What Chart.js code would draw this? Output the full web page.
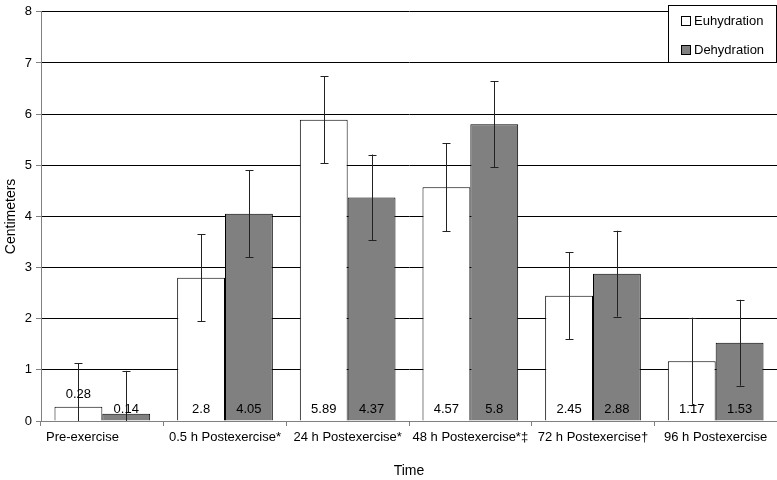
<!DOCTYPE html>
<html>
<head>
<meta charset="utf-8">
<script src="https://cdn.jsdelivr.net/npm/chart.js@4/dist/chart.umd.min.js"></script>
<style>
  html, body { margin: 0; padding: 0; background: #fff; }
  #wrap { width: 777px; height: 480px; }
</style>
</head>
<body>
<div id="wrap"><canvas id="chart"></canvas></div>
<script>
// Data
const categories = ['Pre-exercise', '0.5 h Postexercise*', '24 h Postexercise*', '48 h Postexercise*\u2021', '72 h Postexercise\u2020', '96 h Postexercise']
const euhydration = [0.28, 2.8, 5.89, 4.57, 2.45, 1.17]
const dehydration = [0.14, 4.05, 4.37, 5.8, 2.88, 1.53]
const euhydrationErr = [0.85, 0.85, 0.85, 0.86, 0.85, 0.85]
const dehydrationErr = [0.84, 0.85, 0.84, 0.84, 0.84, 0.84]
const seriesNames = ['Euhydration', 'Dehydration']
const seriesColors = ['#ffffff', '#808080']

const FONT = 'Liberation Sans, Arial, sans-serif'

// error bars + value labels drawn on top of the bars
const barExtras = {
    id: 'barExtras',
    afterDatasetsDraw (chart) {
        const ctx = chart.ctx
        const y = chart.scales.y
        const area = chart.chartArea
        const errs = [euhydrationErr, dehydrationErr]
        chart.data.datasets.forEach((ds, di) => {
            const meta = chart.getDatasetMeta(di)
            meta.data.forEach((bar, i) => {
                const v = ds.data[i]
                const e = errs[di][i]
                // error bar
                ctx.save()
                ctx.beginPath()
                ctx.rect(area.left, area.top, area.right - area.left, area.bottom - area.top)
                ctx.clip()
                ctx.strokeStyle = '#222'
                ctx.lineWidth = 1
                const x = Math.round(bar.x) + 0.5
                const yt = y.getPixelForValue(v + e)
                const yb = y.getPixelForValue(v - e)
                ctx.beginPath()
                ctx.moveTo(x, yt); ctx.lineTo(x, yb)
                ctx.moveTo(x - 4, Math.round(yt) + 0.5); ctx.lineTo(x + 4, Math.round(yt) + 0.5)
                ctx.moveTo(x - 4, Math.round(yb) + 0.5); ctx.lineTo(x + 4, Math.round(yb) + 0.5)
                ctx.stroke()
                ctx.restore()
                // value label near the base of the bar
                const base = y.getPixelForValue(0)
                const h = base - bar.y
                let ly = base - 12
                if (h > 10 && h < 24) ly = bar.y - 12
                ctx.save()
                ctx.font = '13px ' + FONT
                ctx.fillStyle = '#000'
                ctx.textAlign = 'center'
                ctx.textBaseline = 'middle'
                ctx.fillText(String(v), bar.x, ly)
                ctx.restore()
            })
        })
    }
}

// legend box inside the plot, top right
const boxLegend = {
    id: 'boxLegend',
    afterDraw (chart) {
        const ctx = chart.ctx
        const bx = 668.5, by = 5.5, bw = 108, bh = 57
        ctx.save()
        ctx.fillStyle = '#fff'
        ctx.fillRect(bx, by, bw, bh)
        ctx.strokeStyle = '#000'
        ctx.lineWidth = 1
        ctx.strokeRect(bx, by, bw, bh)
        ctx.font = '13px ' + FONT
        ctx.textBaseline = 'middle'
        seriesNames.forEach((name, i) => {
            const cy = 21 + i * 29
            ctx.fillStyle = seriesColors[i]
            ctx.fillRect(681.5, cy - 4.5, 9, 9)
            ctx.strokeRect(681.5, cy - 4.5, 9, 9)
            ctx.fillStyle = '#000'
            ctx.fillText(name, 694, cy)
        })
        ctx.restore()
    }
}

new Chart(document.getElementById('chart'), {
    type: 'bar',
    data: {
        labels: categories,
        datasets: [{
            label: seriesNames[0],
            data: euhydration,
            backgroundColor: seriesColors[0],
            borderColor: '#000',
            borderWidth: 1,
            categoryPercentage: 0.78,
            barPercentage: 1.0
        }, {
            label: seriesNames[1],
            data: dehydration,
            backgroundColor: seriesColors[1],
            borderColor: '#000',
            borderWidth: 1,
            categoryPercentage: 0.78,
            barPercentage: 1.0
        }]
    },
    options: {
        responsive: true,
        maintainAspectRatio: false,
        animation: false,
        layout: { padding: { top: 6, right: 0, left: 0, bottom: 0 } },
        plugins: {
            legend: { display: false },
            tooltip: { enabled: false }
        },
        scales: {
            x: {
                grid: {
                    display: true,
                    drawOnChartArea: false,
                    color: '#808080',
                    tickLength: 5
                },
                border: { color: '#808080' },
                ticks: {
                    color: '#000',
                    font: { family: FONT, size: 13 },
                    maxRotation: 0,
                    autoSkip: false,
                    padding: 4,
                    // the first label sits left of its category in the original
                    callback (val, i) {
                        const t = this.getLabelForValue(val)
                        return i === 0 ? t + ' '.repeat(11) : t
                    }
                },
                title: {
                    display: true,
                    text: 'Time',
                    color: '#000',
                    font: { family: FONT, size: 14 },
                    padding: { top: 16, bottom: 0 }
                },
                afterFit (scale) { scale.height = 59 }
            },
            y: {
                min: 0,
                max: 8,
                ticks: {
                    stepSize: 1,
                    color: '#000',
                    font: { family: FONT, size: 13 },
                    padding: 4
                },
                grid: {
                    color: '#000',
                    tickColor: '#808080',
                    tickLength: 5
                },
                border: { color: '#808080' },
                title: {
                    display: true,
                    text: 'Centimeters',
                    color: '#000',
                    font: { family: FONT, size: 14 },
                    padding: { top: 3, bottom: 4 }
                },
                afterFit (scale) { scale.width = 41 }
            }
        }
    },
    plugins: [barExtras, boxLegend]
})
</script>
</body>
</html>
